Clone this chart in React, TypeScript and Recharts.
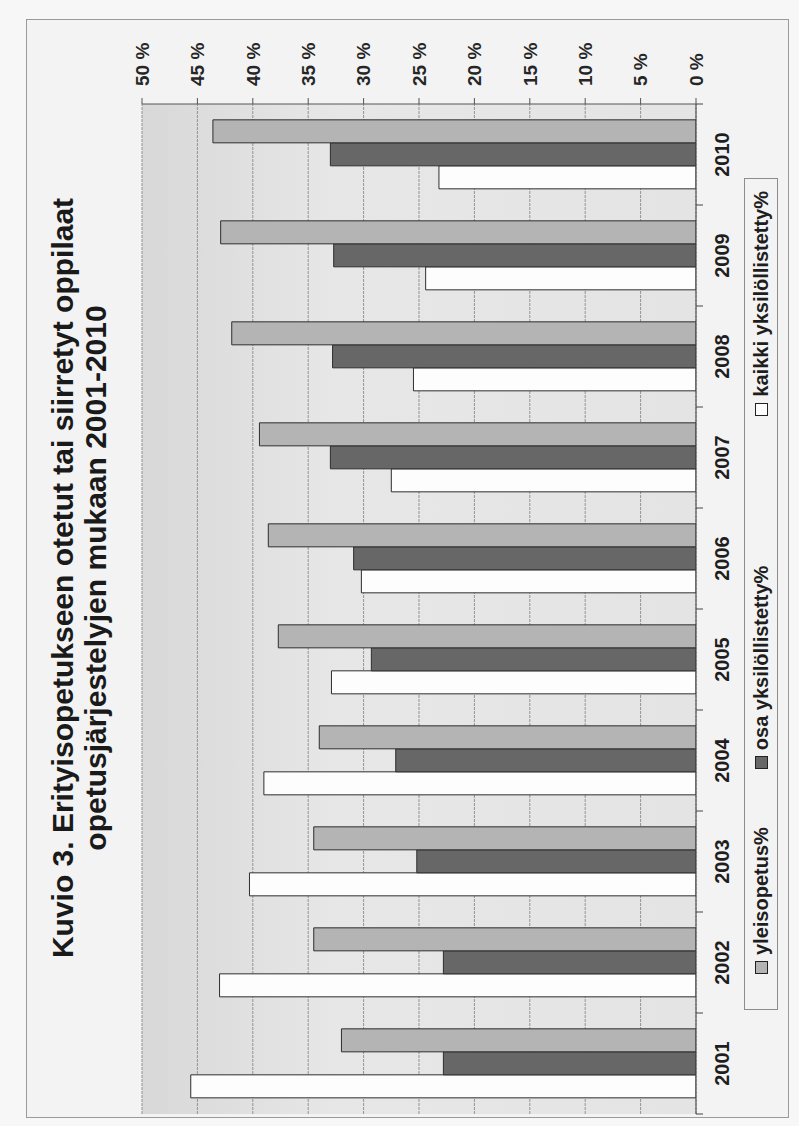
import { BarChart, Bar, XAxis, YAxis, CartesianGrid } from "recharts"

// values (per cent of pupils)
const years = ["2001", "2002", "2003", "2004", "2005", "2006", "2007", "2008", "2009", "2010"]
const yleisopetus = [32.0, 34.5, 34.5, 34.0, 37.7, 38.6, 39.4, 41.9, 42.9, 43.6]
const osaYksilollistetty = [22.8, 22.8, 25.2, 27.1, 29.3, 30.9, 33.0, 32.8, 32.7, 33.0]
const kaikkiYksilollistetty = [45.6, 43.0, 40.3, 39.0, 32.9, 30.2, 27.5, 25.5, 24.4, 23.2]
const valueTicks = [0, 5, 10, 15, 20, 25, 30, 35, 40, 45, 50]

const titleLines = [
  "Kuvio 3. Erityisopetukseen otetut tai siirretyt oppilaat",
  "opetusjärjestelyjen mukaan 2001-2010",
]

const series = [
  { key: "yleis", name: "yleisopetus%", fill: "#b4b4b4" },
  { key: "osa", name: "osa yksilöllistetty%", fill: "#676767" },
  { key: "kaikki", name: "kaikki yksilöllistetty%", fill: "#fdfdfd" },
]

const chartData = years.map((year, i) => ({
  year,
  yleis: yleisopetus[i],
  osa: osaYksilollistetty[i],
  kaikki: kaikkiYksilollistetty[i],
}))

const FONT = "'Liberation Sans', Arial, sans-serif"
const W = 1126
const H = 799

// year label plus the small tick marks on the category boundaries
function YearTick(props: any) {
  const { x, y, payload, index } = props
  const half = payload?.offset ?? 50
  const last = index === years.length - 1
  return (
    <g>
      <line x1={x - half} x2={x - half} y1={y} y2={y + 7} stroke="#444" />
      {last && <line x1={x + half} x2={x + half} y1={y} y2={y + 7} stroke="#444" />}
      <text
        x={x}
        y={y + 19}
        dy="0.71em"
        textAnchor="middle"
        fontSize={20}
        fontWeight="bold"
        fontFamily={FONT}
        fill="#1e1e1e"
      >
        {payload.value}
      </text>
    </g>
  )
}

// legend spacing in the scan is uneven, so each item gets its own left gap
const legendGaps = [35, 58, 150]

function Legendbox() {
  return (
    <div
      style={{
        position: "absolute",
        left: 116,
        top: 744,
        width: 832,
        height: 34,
        boxSizing: "border-box",
        border: "1px solid #8c8c8c",
        display: "flex",
        alignItems: "center",
        fontFamily: FONT,
        fontSize: 20,
        fontWeight: "bold",
        color: "#1e1e1e",
        whiteSpace: "nowrap",
      }}
    >
      {series.map((s, i) => (
        <div
          key={s.key}
          style={{ display: "flex", alignItems: "center", gap: 6, marginLeft: legendGaps[i] }}
        >
          <span
            style={{
              width: 13,
              height: 13,
              boxSizing: "border-box",
              border: "1px solid #222",
              background: s.fill,
              display: "inline-block",
            }}
          />
          <span>{s.name}</span>
        </div>
      ))}
    </div>
  )
}

export default function App() {
  // bars drawn left to right as in the original: kaikki, osa, yleisopetus
  const barOrder = [series[2], series[1], series[0]]
  return (
    <div
      style={{
        position: "absolute",
        left: 0,
        top: 0,
        width: 799,
        height: 1126,
        overflow: "hidden",
        background: "#f7f7f7",
      }}
    >
      {/* the scanned page is turned a quarter turn counter-clockwise */}
      <div
        style={{
          position: "absolute",
          left: 0,
          top: 0,
          width: W,
          height: H,
          transformOrigin: "0 0",
          transform: `translateY(${W}px) rotate(-90deg)`,
        }}
      >
        <div
          style={{
            position: "absolute",
            left: 8,
            top: 26,
            width: 1099,
            height: 763,
            boxSizing: "border-box",
            border: "1px solid #9a9a9a",
            background: "#f3f3f3",
          }}
        />
        <div
          style={{
            position: "absolute",
            left: 148,
            top: 46,
            width: 800,
            textAlign: "center",
            fontFamily: FONT,
            fontSize: 30,
            fontWeight: "bold",
            lineHeight: "33px",
            color: "#1a1a1a",
            whiteSpace: "nowrap",
          }}
        >
          {titleLines.map(t => (
            <div key={t}>{t}</div>
          ))}
        </div>
        <div style={{ position: "absolute", left: 0, top: 0 }}>
          <BarChart
            width={W}
            height={H}
            data={chartData}
            margin={{ top: 142, left: 12, right: 44, bottom: 73 }}
            barCategoryGap="16%"
            barGap={0}
          >
            <defs>
              <linearGradient id="plotBg" x1="0" y1="0" x2="0" y2="1">
                <stop offset="0%" stopColor="#d8d8d8" />
                <stop offset="35%" stopColor="#e7e7e7" />
                <stop offset="100%" stopColor="#e4e4e4" />
              </linearGradient>
            </defs>
            <CartesianGrid
              vertical={false}
              stroke="#939393"
              strokeDasharray="3 1"
              fill="url(#plotBg)"
              fillOpacity={1}
            />
            <XAxis
              dataKey="year"
              height={30}
              tickLine={false}
              tickSize={0}
              tickMargin={0}
              axisLine={{ stroke: "#444" }}
              tick={<YearTick />}
              interval={0}
            />
            <YAxis
              orientation="right"
              width={60}
              domain={[0, 50]}
              ticks={valueTicks}
              tickSize={6}
              tickMargin={12}
              tickLine={{ stroke: "#555" }}
              axisLine={{ stroke: "#555" }}
              tickFormatter={(v: number) => `${v} %`}
              tick={{
                fontSize: 19,
                fontWeight: "bold",
                fill: "#262626",
                fontFamily: FONT,
                textAnchor: "start",
              }}
              allowDataOverflow
            />
            {barOrder.map(s => (
              <Bar
                key={s.key}
                dataKey={s.key}
                name={s.name}
                fill={s.fill}
                stroke="#2e2e2e"
                strokeWidth={1}
                isAnimationActive={false}
              />
            ))}
          </BarChart>
        </div>
        <Legendbox />
      </div>
    </div>
  )
}
